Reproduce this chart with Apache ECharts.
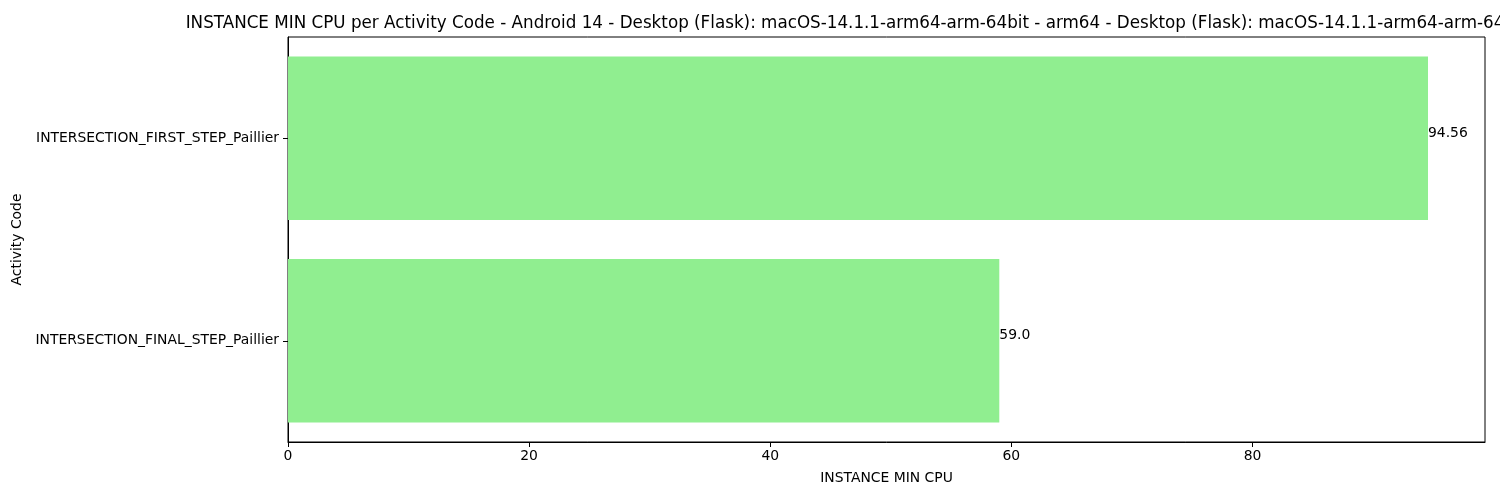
<!DOCTYPE html>
<html>
<head>
<meta charset="utf-8">
<script src="https://cdn.jsdelivr.net/npm/echarts@6/dist/echarts.min.js"></script>
<style>html,body{margin:0;padding:0;background:#fff}#c{width:1500px;height:500px}</style>
</head>
<body>
<div id="c"></div>
<script>
const titleText = 'INSTANCE MIN CPU per Activity Code - Android 14 - Desktop (Flask): macOS-14.1.1-arm64-arm-64bit - arm64 - Desktop (Flask): macOS-14.1.1-arm64-arm-64bit - arm64';
const categories = ['INTERSECTION_FIRST_STEP_Paillier', 'INTERSECTION_FINAL_STEP_Paillier'];
const values = [94.56, 59.0];
const xTicks = [0, 20, 40, 60, 80];
const xName = 'INSTANCE MIN CPU';
const yName = 'Activity Code';

const FONT = 'DejaVu Sans';
const maxVal = Math.max(...values);
const chart = echarts.init(document.getElementById('c'), null, {renderer: 'canvas'});
chart.setOption({
  animation: false,
  backgroundColor: '#fff',
  textStyle: {fontFamily: FONT},
  title: {
    text: titleText,
    left: 886.5,
    textAlign: 'center',
    top: 10,
    textStyle: {fontFamily: FONT, fontSize: 16.75, fontWeight: 'normal', color: '#000'}
  },
  grid: {left: 288, right: 15, top: 37, bottom: 58, show: true, borderColor: '#000', borderWidth: 1, containLabel: false},
  xAxis: {
    type: 'value',
    min: 0,
    max: maxVal * 1.05,
    interval: 20,
    name: xName,
    nameLocation: 'middle',
    nameGap: 29,
    nameTextStyle: {fontFamily: FONT, fontSize: 13.9, color: '#000'},
    axisLine: {show: true, lineStyle: {color: '#000', width: 1}},
    axisTick: {show: true, length: 5, lineStyle: {color: '#000'}},
    splitLine: {show: false},
    axisLabel: {
      fontFamily: FONT, fontSize: 13.9, color: '#000', margin: 7,
      showMaxLabel: false,
      formatter: v => xTicks.includes(v) ? String(v) : ''
    }
  },
  yAxis: {
    type: 'category',
    inverse: true,
    data: categories,
    name: yName,
    nameLocation: 'middle',
    nameGap: 253,
    nameRotate: 90,
    nameTextStyle: {fontFamily: FONT, fontSize: 13.9, color: '#000'},
    axisLine: {show: true, lineStyle: {color: '#000', width: 1}},
    axisTick: {show: true, length: 5, alignWithLabel: true, lineStyle: {color: '#000'}},
    axisLabel: {fontFamily: FONT, fontSize: 13.9, color: '#000', margin: 9},
    splitLine: {show: false}
  },
  series: [{
    type: 'bar',
    data: values,
    barCategoryGap: '19.2%',
    itemStyle: {color: '#90EE90'},
    label: {
      show: true,
      position: 'right',
      distance: 0,
      offset: [0, -5],
      fontFamily: FONT, fontSize: 13.9, color: '#000',
      formatter: p => Number.isInteger(p.value) ? p.value.toFixed(1) : String(p.value)
    }
  }]
});
</script>
</body>
</html>
